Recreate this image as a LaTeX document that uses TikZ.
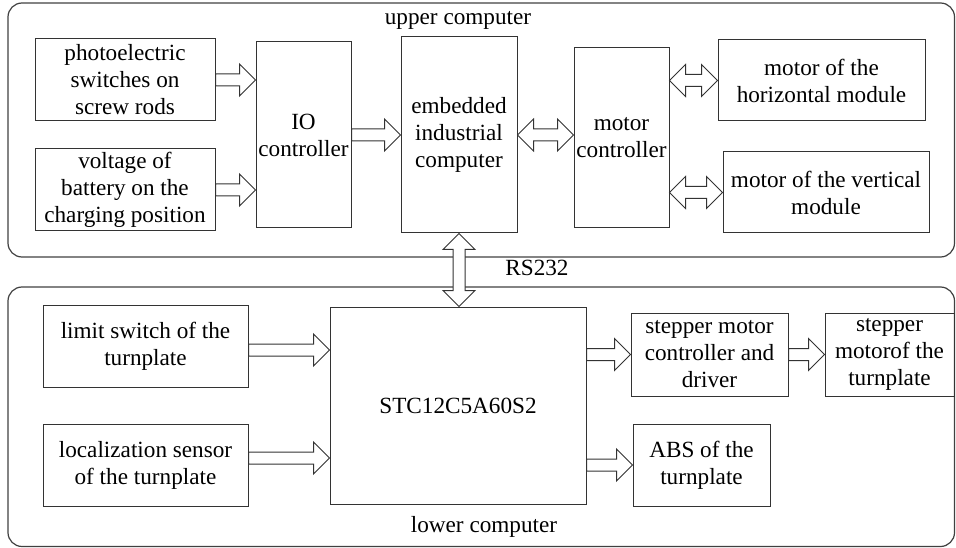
\documentclass[tikz,border=0pt]{standalone}
\usepackage{fontspec}
\setmainfont{Liberation Serif}
\newfontfamily\tnr{Liberation Serif}
\usetikzlibrary{calc}
\tikzset{
  box/.style={draw=black!80, line width=1pt, align=center, inner sep=0pt, font=\tnr\fontsize{23.2}{27}\selectfont},
  lbl/.style={inner sep=0pt, font=\tnr\fontsize{23.2}{27}\selectfont},
  cont/.style={draw=black!75, line width=1.2pt, rounded corners=14pt},
  blk/.style={draw=black!80, line width=1pt, fill=white, line join=miter}
}
\newcommand\sarrowh[2]{\draw[blk] let \p1=(#1), \p2=(#2) in
  (\x1,\y1+6pt) -- (\x2-16pt,\y1+6pt) -- (\x2-16pt,\y1+16pt) -- (\x2,\y1)
  -- (\x2-16pt,\y1-16pt) -- (\x2-16pt,\y1-6pt) -- (\x1,\y1-6pt) -- cycle;}
\newcommand\darrowh[2]{\draw[blk] let \p1=(#1), \p2=(#2) in
  (\x1,\y1) -- (\x1+16pt,\y1+16pt) -- (\x1+16pt,\y1+6pt) -- (\x2-16pt,\y1+6pt)
  -- (\x2-16pt,\y1+16pt) -- (\x2,\y1) -- (\x2-16pt,\y1-16pt) -- (\x2-16pt,\y1-6pt)
  -- (\x1+16pt,\y1-6pt) -- (\x1+16pt,\y1-16pt) -- cycle;}
\newcommand\darrowv[2]{\draw[blk] let \p1=(#1), \p2=(#2) in
  (\x1,\y1) -- (\x1+16pt,\y1-16pt) -- (\x1+6pt,\y1-16pt) -- (\x1+6pt,\y2+16pt)
  -- (\x1+16pt,\y2+16pt) -- (\x1,\y2) -- (\x1-16pt,\y2+16pt) -- (\x1-6pt,\y2+16pt)
  -- (\x1-6pt,\y1-16pt) -- (\x1-16pt,\y1-16pt) -- cycle;}
\begin{document}
\begin{tikzpicture}[x=1pt, y=-1pt]
\useasboundingbox (0,0) rectangle (956,548);
% containers
\draw[cont] (8,3) rectangle (954.5,257);
\draw[cont] (8,287) rectangle (954.5,546.5);
\node[lbl] (upl) at (458,20) {upper computer};
\node[lbl] (lol) at (484,527) {lower computer};
\node[lbl] (rs) at (537,268) {RS232};
% upper boxes
\node[box, minimum width=180pt, minimum height=82pt] (photo) at (125,80) {photoelectric\\switches on\\screw rods};
\node[box, minimum width=180pt, minimum height=82pt] (volt) at (125,190) {voltage of\\battery on the\\charging position};
\node[box, minimum width=95pt, minimum height=186pt] (io) at (303.5,135) {IO\\controller};
\node[box, minimum width=116pt, minimum height=196pt] (emb) at (459,135) {embedded\\industrial\\computer};
\node[box, minimum width=95pt, minimum height=180pt] (mc) at (621.5,138) {motor\\controller};
\node[box, minimum width=207pt, minimum height=81pt] (hor) at (821.5,80.5) {motor of the\\horizontal module};
\node[box, minimum width=206pt, minimum height=81pt] (ver) at (826,192.5) {motor of the vertical\\module};
% lower boxes
\node[box, minimum width=205pt, minimum height=82pt] (lim) at (145.5,346) {limit switch of the\\turnplate};
\node[box, minimum width=205pt, minimum height=82pt] (loc) at (145.5,465) {localization sensor\\of the turnplate};
\node[box, minimum width=256pt, minimum height=197pt] (stc) at (458,405.5) {STC12C5A60S2};
\node[box, minimum width=157pt, minimum height=83pt] (sctl) at (709.5,354.5) {stepper motor\\controller and\\driver};
\node[box, minimum width=129pt, minimum height=83pt] (smot) at (889.5,354.5) {stepper\\motorof the\\turnplate};
\node[box, minimum width=137pt, minimum height=82pt] (abs) at (701.5,465) {ABS of the\\turnplate};
\coordinate (limo) at ([yshift=-4pt]lim.east);
\coordinate (loco) at ([yshift=7pt]loc.east);
% arrows
\sarrowh{photo.east}{io.west |- photo.east}
\sarrowh{volt.east}{io.west |- volt.east}
\sarrowh{io.east}{emb.west |- io.east}
\darrowh{emb.east}{mc.west |- emb.east}
\darrowh{mc.east |- hor.west}{hor.west}
\darrowh{mc.east |- ver.west}{ver.west}
\darrowv{emb.south}{stc.north -| emb.south}
\sarrowh{limo}{stc.west |- limo}
\sarrowh{loco}{stc.west |- loco}
\sarrowh{stc.east |- sctl.west}{sctl.west}
\sarrowh{sctl.east}{smot.west}
\sarrowh{stc.east |- abs.west}{abs.west}
\end{tikzpicture}
\end{document}
